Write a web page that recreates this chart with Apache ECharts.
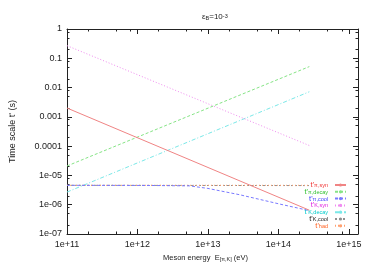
<!DOCTYPE html>
<html><head><meta charset="utf-8">
<script src="https://cdn.jsdelivr.net/npm/echarts@6/dist/echarts.min.js"></script>
<style>html,body{margin:0;padding:0;background:#fff}#c{width:375px;height:263px}</style>
</head><body><div id="c"></div>
<script>
// ---- data ----
const energyEnds = [1e11, 2.75e14];
const piSyn   = [2.0e-3, 6.5e-7];
const piDecay = [2.1e-5, 5.2e-2];
const kSyn    = [2.7e-1, 1.05e-4];
const kDecay  = [2.7e-6, 7.2e-3];
const kCool   = [4.6e-6, 4.5e-6];
const tHad    = [4.6e-6, 4.6e-6];
const energyCool = [1e11, 1.35e12, 5.5e12, 1e13, 2.8e13, 1.05e14, 2.75e14];
const piCool     = [4.6e-6, 4.55e-6, 4.4e-6, 3.6e-6, 2.2e-6, 1.05e-6, 6.3e-7];
const xTickValues = [1e11, 1e12, 1e13, 1e14, 1e15];
const xTickLabels = ['1e+11', '1e+12', '1e+13', '1e+14', '1e+15'];
const yTickValues = [1e-7, 1e-6, 1e-5, 1e-4, 1e-3, 1e-2, 1e-1, 1];
const yTickLabels = ['1e-07', '1e-06', '1e-05', '0.0001', '0.001', '0.01', '0.1', '1'];
const seriesNames = ["t'π,syn", "t'π,decay", "t'π,cool", "t'K,syn", "t'K,decay", "t'K,cool", "t'had"];
const seriesSubs  = ['π,syn', 'π,decay', 'π,cool', 'K,syn', 'K,decay', 'K,cool', 'had'];

// ---- styling ----
const lineColors = ['#f08484', '#86e486', '#7a7aff', '#f08cf0', '#7ae8e8', '#909090', '#ffa070'];
const textColors = ['#f03030', '#30c030', '#3c3cff', '#e020e0', '#00cccc', '#202020', '#ff6020'];
const lineTypes  = ['solid', [3, 2], [3, 2], [1, 2], [4, 2, 1, 2], [2, 2], [1, 2]];
const lineZ      = [10, 9, 8, 7, 6, 4, 5];
const FONT = 'Liberation Sans, Arial, sans-serif';

function pairs(xs, ys) { return xs.map((x, i) => [x, ys[i]]); }
function minorValues(lo, hi) {
  const out = [];
  for (let e = lo; e <= hi; e++) for (const m of [2, 5, 8]) out.push(m * Math.pow(10, e));
  return out;
}
const xMin = 1e11, xMax = 1.35e15, yMin = 1e-7, yMax = 1;
const xMinor = minorValues(11, 14).filter(v => v <= xMax);
const yMinor = minorValues(-7, -1);

const dataSets = [
  pairs(energyEnds, piSyn), pairs(energyEnds, piDecay), pairs(energyCool, piCool),
  pairs(energyEnds, kSyn), pairs(energyEnds, kDecay), pairs(energyEnds, kCool), pairs(energyEnds, tHad)
];

const rich = {};
seriesNames.forEach((n, i) => {
  rich['m' + i] = { fontSize: 7.5, color: textColors[i], fontFamily: FONT, lineHeight: 7 };
  rich['s' + i] = { fontSize: 5.5, color: textColors[i], fontFamily: FONT, lineHeight: 3, verticalAlign: 'bottom' };
});

function xAx(pos, major, show) {
  return {
    type: 'log', logBase: 10, min: xMin, max: xMax, position: pos,
    axisLine: { show: show, onZero: false, lineStyle: { color: '#222', width: 1 } },
    axisTick: { show: true, inside: true, length: major ? 5 : 2.5, customValues: major ? xTickValues : xMinor, lineStyle: { color: '#222' } },
    axisLabel: { show: pos === 'bottom' && major, customValues: xTickValues, fontSize: 9, color: '#222', fontFamily: FONT, margin: 6,
      formatter: v => xTickLabels[Math.round(Math.log10(v)) - 11] },
    splitLine: { show: false }, minorTick: { show: false }
  };
}
function yAx(pos, major, show) {
  return {
    type: 'log', logBase: 10, min: yMin, max: yMax, position: pos,
    axisLine: { show: show, onZero: false, lineStyle: { color: '#222', width: 1 } },
    axisTick: { show: true, inside: true, length: major ? 5 : 2.5, customValues: major ? yTickValues : yMinor, lineStyle: { color: '#222' } },
    axisLabel: { show: pos === 'left' && major, customValues: yTickValues, fontSize: 9, color: '#222', fontFamily: FONT, margin: 5,
      formatter: v => yTickLabels[Math.round(Math.log10(v)) + 7] },
    splitLine: { show: false }, minorTick: { show: false }
  };
}

const xAxes = [xAx('bottom', true, true), xAx('bottom', false, false), xAx('top', true, true), xAx('top', false, false)];
xAxes[0].name = '{a|Meson energy  E}{s|[π,K]}{a| (eV)}';
xAxes[0].nameLocation = 'middle';
xAxes[0].nameGap = 20;
xAxes[0].nameTextStyle = { padding: [0, 14, 0, 0], rich: {
  a: { fontSize: 7.5, color: '#222', fontFamily: FONT, lineHeight: 8 },
  s: { fontSize: 5.5, color: '#222', fontFamily: FONT, lineHeight: 3, verticalAlign: 'bottom' } } };
const yAxes = [yAx('left', true, true), yAx('left', false, false), yAx('right', true, true), yAx('right', false, false)];
yAxes[0].name = "Time scale t' (s)";
yAxes[0].nameLocation = 'middle';
yAxes[0].nameGap = 50;
yAxes[0].nameTextStyle = { fontSize: 9, color: '#222', fontFamily: FONT };

const chart = echarts.init(document.getElementById('c'), null, { renderer: 'canvas' });
chart.setOption({
  animation: false,
  backgroundColor: '#fff',
  title: {
    text: '{a|ε}{s|B}{a|=10}{p|-3}', left: 197, top: 8,
    textStyle: { fontWeight: 'normal', rich: {
      a: { fontSize: 8, color: '#222', fontFamily: FONT, fontWeight: 'normal', lineHeight: 8 },
      s: { fontSize: 5.5, color: '#222', fontFamily: FONT, fontWeight: 'normal', lineHeight: 3, verticalAlign: 'bottom' },
      p: { fontSize: 5.5, color: '#222', fontFamily: FONT, fontWeight: 'normal', lineHeight: 3, verticalAlign: 'top' }
    } }
  },
  grid: { left: 67, right: 17, top: 29, bottom: 29, containLabel: false, outerBoundsMode: 'none' },
  xAxis: xAxes,
  yAxis: yAxes,
  legend: {
    orient: 'vertical', right: 28, top: 181, align: 'right', padding: 0,
    itemWidth: 11, itemHeight: 4, itemGap: -1.2,
    data: seriesNames,
    formatter: name => { const i = seriesNames.indexOf(name); return '{m' + i + "|t'}{s" + i + '|' + seriesSubs[i] + '}'; },
    textStyle: { rich: rich, fontSize: 7, padding: [0, 2, 0, 0] }
  },
  series: seriesNames.map((n, i) => ({
    name: n, type: 'line', xAxisIndex: 0, yAxisIndex: 0, data: dataSets[i],
    showSymbol: false, symbol: 'none', z: lineZ[i],
    itemStyle: { color: lineColors[i] },
    lineStyle: { color: lineColors[i], width: 1, type: lineTypes[i] }
  }))
});
</script></body></html>
